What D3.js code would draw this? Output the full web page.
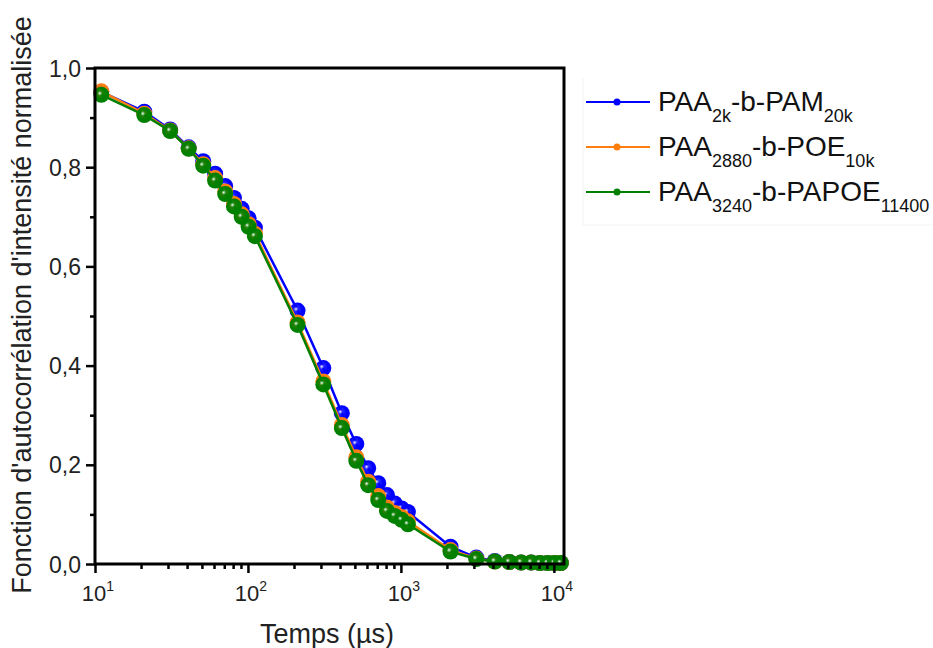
<!DOCTYPE html>
<html><head><meta charset="utf-8">
<script src="https://cdn.jsdelivr.net/npm/d3@7"></script>
<style>body{margin:0;background:#fff}svg{font-family:"Liberation Sans",Arial,sans-serif}</style>
</head><body><svg id="c" width="933" height="648"></svg>
<script>
const times = [11,21,31,41,51,61,71,81,91,101,111,211,311,411,511,611,711,811,911,1011,1111,2111,3111,4111,5111,6111,7111,8111,9111,10111,11111];
const pam = [0.952,0.912,0.876,0.840,0.812,0.787,0.762,0.738,0.716,0.697,0.678,0.511,0.395,0.304,0.242,0.193,0.163,0.139,0.122,0.112,0.105,0.035,0.013,0.006,0.004,0.003,0.003,0.002,0.002,0.002,0.002];
const poe = [0.953,0.908,0.874,0.838,0.806,0.778,0.751,0.726,0.705,0.685,0.666,0.487,0.368,0.280,0.215,0.166,0.137,0.114,0.103,0.095,0.086,0.028,0.011,0.005,0.004,0.003,0.003,0.002,0.002,0.002,0.002];
const papoe = [0.946,0.905,0.873,0.837,0.803,0.773,0.746,0.721,0.700,0.680,0.661,0.482,0.362,0.274,0.208,0.159,0.129,0.107,0.097,0.089,0.080,0.025,0.010,0.005,0.004,0.003,0.003,0.002,0.002,0.002,0.002];
const seriesNames = [["PAA","2k","-b-PAM","20k"],["PAA","2880","-b-POE","10k"],["PAA","3240","-b-PAPOE","11400"]];
const colors = ["#0000ff","#ff7f0e","#008000"];
const yTicks = [0,0.2,0.4,0.6,0.8,1.0];
const xTicks = [10,100,1000,10000];

const svg = d3.select("#c");
const L=95,R=564,T=68,B=564;
const x = d3.scaleLog().domain([10,11650]).range([L,R]);
const y = d3.scaleLinear().domain([0,1]).range([B,T]);

const defs = svg.append("defs");
colors.forEach((c,i)=>{
  const g = defs.append("radialGradient").attr("id","g"+i).attr("cx","0.45").attr("cy","0.45").attr("r","0.6").attr("fx","0.4").attr("fy","0.4");
  g.append("stop").attr("offset","0").attr("stop-color","#ffffff");
  g.append("stop").attr("offset","0.25").attr("stop-color",c).attr("stop-opacity",0.85);
  g.append("stop").attr("offset","0.6").attr("stop-color",c);
  g.append("stop").attr("offset","1").attr("stop-color",c);
});

const data = [pam,poe,papoe];
const plot = svg.append("g");
data.forEach((vals,i)=>{
  const pts = times.map((t,j)=>[t,vals[j]]);
  plot.append("path").attr("d",d3.line().x(d=>x(d[0])).y(d=>y(d[1]))(pts))
    .attr("fill","none").attr("stroke",colors[i]).attr("stroke-width",2.5);
  plot.selectAll(null).data(pts).enter().append("circle")
    .attr("cx",d=>x(d[0])).attr("cy",d=>y(d[1])).attr("r",8)
    .attr("fill","url(#g"+i+")");
});

svg.append("rect").attr("x",L).attr("y",T).attr("width",R-L).attr("height",B-T)
  .attr("fill","none").attr("stroke","#000").attr("stroke-width",3);

const minor = [];
for (let d=10; d<10000; d*=10) for (let k=2;k<10;k++) minor.push(d*k);
const xa = svg.append("g").attr("transform",`translate(0,${B})`);
xa.call(d3.axisBottom(x).tickValues(xTicks).tickSize(9).tickFormat(""));
xa.append("g").call(d3.axisBottom(x).tickValues(minor).tickSize(5).tickFormat(""));
xa.selectAll(".domain").remove();
xa.selectAll("line").attr("stroke","#000").attr("stroke-width",2.5);
const xl = svg.append("g");
xTicks.forEach(t=>{
  const tx = xl.append("text").attr("x",x(t)+3).attr("y",B+37).attr("text-anchor","middle").attr("font-size",22).attr("fill","#222");
  tx.append("tspan").text("10");
  tx.append("tspan").attr("dy",-10).attr("font-size",14).text(Math.round(Math.log10(t)));
});

const ya = svg.append("g").attr("transform",`translate(${L},0)`);
ya.call(d3.axisLeft(y).tickValues(yTicks).tickSize(9).tickFormat(d=>d3.format(".1f")(d).replace(".",",")));
ya.append("g").call(d3.axisLeft(y).tickValues([0.1,0.3,0.5,0.7,0.9]).tickSize(5).tickFormat(""));
ya.selectAll(".domain").remove();
ya.selectAll("line").attr("stroke","#000").attr("stroke-width",2.5);
ya.selectAll("text").attr("font-size",23).attr("fill","#222").attr("font-family","Liberation Sans, Arial, sans-serif").attr("x",-14).attr("dy","0.35em");

svg.append("text").attr("x",327).attr("y",643).attr("text-anchor","middle").attr("font-size",27).attr("fill","#222").text("Temps (µs)");
svg.append("text").attr("transform","translate(31,305) rotate(-90)").attr("text-anchor","middle").attr("font-size",27).attr("fill","#222").text("Fonction d'autocorrélation d'intensité normalisée");

const lg = svg.append("g");
lg.append("path").attr("d","M583,78V225H933").attr("fill","none").attr("stroke","#f2f2f2").attr("stroke-width",1);
seriesNames.forEach((n,i)=>{
  const yy = 102 + i*45;
  lg.append("line").attr("x1",586).attr("x2",650).attr("y1",yy).attr("y2",yy).attr("stroke",colors[i]).attr("stroke-width",2);
  lg.append("circle").attr("cx",617).attr("cy",yy).attr("r",3.5).attr("fill",colors[i]);
  const t = lg.append("text").attr("x",658).attr("y",yy+9).attr("font-size",28).attr("fill","#111");
  t.append("tspan").text(n[0]);
  t.append("tspan").attr("dy",11).attr("font-size",18).text(n[1]);
  t.append("tspan").attr("dy",-11).text(n[2]);
  t.append("tspan").attr("dy",11).attr("font-size",18).text(n[3]);
});
</script></body></html>
